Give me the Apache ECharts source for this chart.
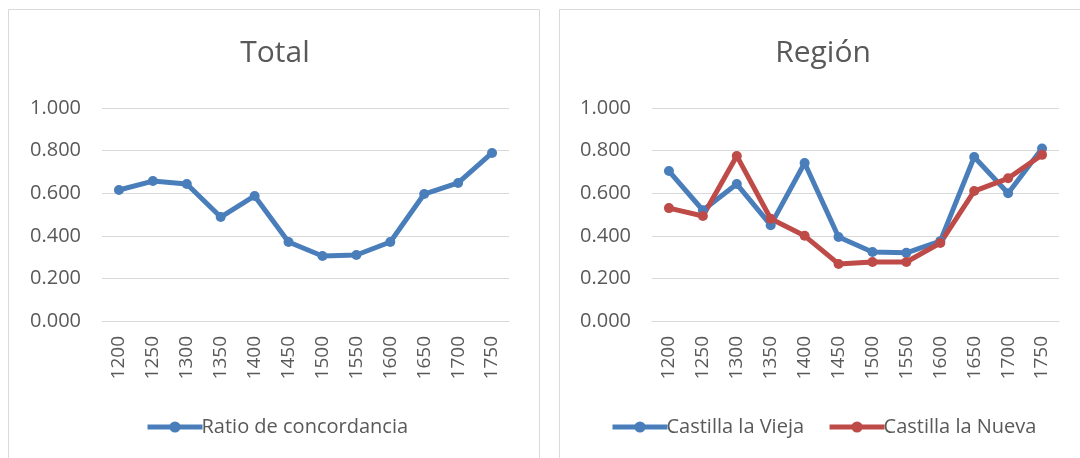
<!DOCTYPE html>
<html lang="es">
  <head>
    <meta charset="UTF-8" />
    <title>Ratio de concordancia</title>
    <script src="https://cdn.jsdelivr.net/npm/echarts@6/dist/echarts.min.js"></script>
    <style>
      html, body { margin: 0; padding: 0; background: #fff; }
    </style>
  </head>
  <body>
    <div id="main" style="width: 1080px;height:458px;"></div>
    <script type="text/javascript">
      var myChart = echarts.init(document.getElementById('main'))

      // datos
      var years = ['1200', '1250', '1300', '1350', '1400', '1450', '1500', '1550', '1600', '1650', '1700', '1750']
      var ratioTotal = [0.615, 0.657, 0.643, 0.488, 0.587, 0.371, 0.305, 0.31, 0.371, 0.596, 0.648, 0.789]
      var castillaVieja = [0.704, 0.52, 0.643, 0.45, 0.742, 0.394, 0.324, 0.32, 0.375, 0.77, 0.6, 0.81]
      var castillaNueva = [0.53, 0.493, 0.775, 0.48, 0.4, 0.268, 0.277, 0.277, 0.366, 0.61, 0.67, 0.78]
      var yTicks = [0, 0.2, 0.4, 0.6, 0.8, 1.0]

      var font = '"Open Sans", Lato, sans-serif'
      var txt = '#595959'
      var blue = '#4a7ebb'
      var red = '#be4b48'

      function xAxis(grid) {
        return {
          type: 'category',
          gridIndex: grid,
          data: years,
          boundaryGap: true,
          axisLine: { lineStyle: { color: '#d9d9d9', width: 1 } },
          axisTick: { show: false },
          axisLabel: { rotate: 90, margin: 15, color: txt, fontSize: 19, fontFamily: font, interval: 0 }
        }
      }
      function yAxis(grid) {
        return {
          type: 'value',
          gridIndex: grid,
          min: yTicks[0],
          max: yTicks[yTicks.length - 1],
          interval: 0.2,
          axisLine: { show: false },
          axisTick: { show: false },
          splitLine: { lineStyle: { color: '#d9d9d9', width: 1 } },
          axisLabel: {
            margin: 21, color: txt, fontSize: 20, fontFamily: font,
            formatter: function (v) { return v.toFixed(3) }
          }
        }
      }
      function line(name, data, color, idx) {
        return {
          name: name,
          type: 'line',
          xAxisIndex: idx,
          yAxisIndex: idx,
          data: data,
          symbol: 'circle',
          symbolSize: 10,
          lineStyle: { color: color, width: 5 },
          itemStyle: { color: color },
          animation: false
        }
      }
      function legendStyle() {
        return {
          top: 412,
          itemWidth: 55, itemHeight: 14, itemGap: 23,
          lineStyle: { width: 5 },
          textStyle: { color: txt, fontSize: 20, fontFamily: font, padding: [0, 0, 0, -6] }
        }
      }

      var legL = legendStyle()
      legL.data = ['Ratio de concordancia']
      legL.left = 140
      var legR = legendStyle()
      legR.data = ['Castilla la Vieja', 'Castilla la Nueva']
      legR.left = 605

      var option = {
        backgroundColor: '#fff',
        animation: false,
        graphic: [
          { type: 'rect', shape: { x: 8.5, y: 9.5, width: 531, height: 470 }, style: { fill: 'none', stroke: '#d9d9d9', lineWidth: 1 } },
          { type: 'rect', shape: { x: 559.5, y: 9.5, width: 530, height: 470 }, style: { fill: 'none', stroke: '#d9d9d9', lineWidth: 1 } }
        ],
        title: [
          { text: 'Total', left: 270, textAlign: 'center', top: 33, textStyle: { fontSize: 30, fontWeight: 'normal', color: txt, fontFamily: font } },
          { text: 'Región', left: 818, textAlign: 'center', top: 33, textStyle: { fontSize: 30, fontWeight: 'normal', color: txt, fontFamily: font } }
        ],
        legend: [legL, legR],
        grid: [
          { left: 102, width: 407, top: 108, height: 213 },
          { left: 652, width: 407, top: 108, height: 213 }
        ],
        xAxis: [xAxis(0), xAxis(1)],
        yAxis: [yAxis(0), yAxis(1)],
        series: [
          line('Ratio de concordancia', ratioTotal, blue, 0),
          line('Castilla la Vieja', castillaVieja, blue, 1),
          line('Castilla la Nueva', castillaNueva, red, 1)
        ]
      }

      myChart.setOption(option)
    </script>
  </body>
</html>
